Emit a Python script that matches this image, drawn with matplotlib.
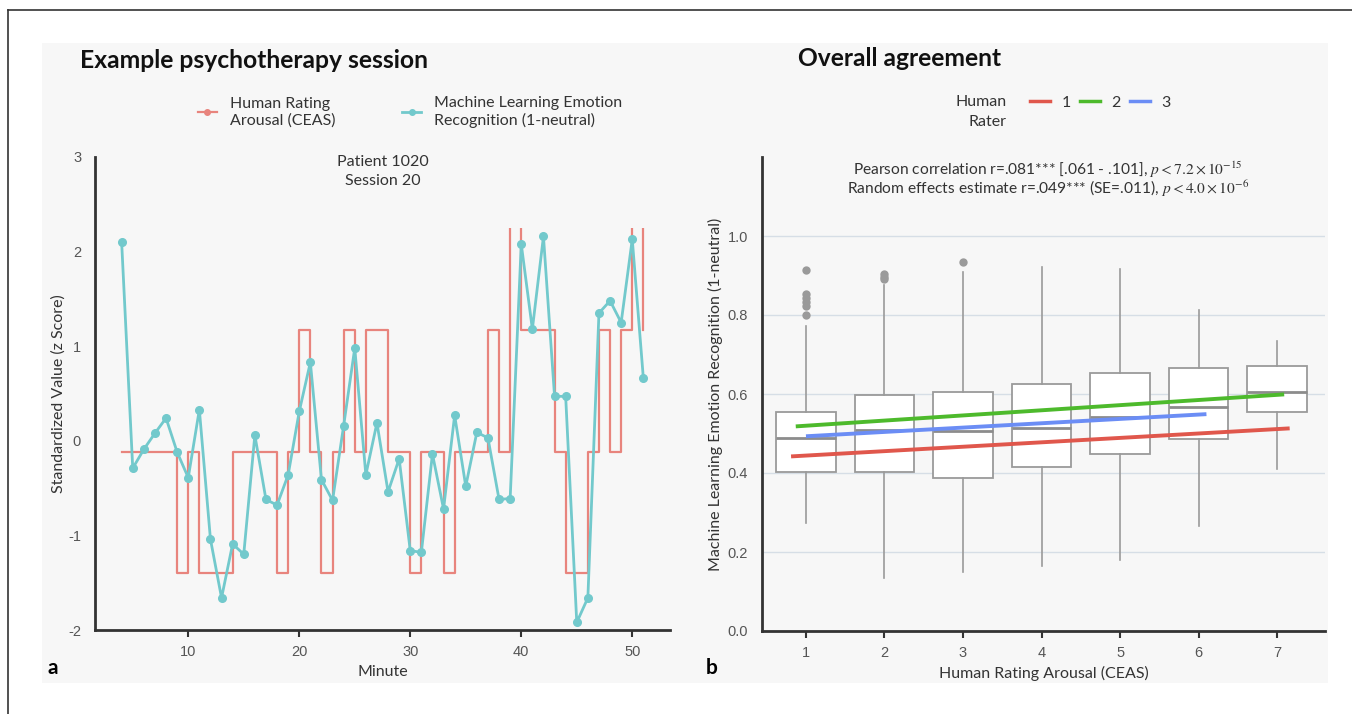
import matplotlib
matplotlib.use("Agg")
import matplotlib.pyplot as plt
from matplotlib.lines import Line2D
from matplotlib.patches import Rectangle

plt.rcParams['font.family'] = ['Lato', 'DejaVu Sans']
plt.rcParams['mathtext.fontset'] = 'stix'
plt.rcParams['axes.unicode_minus'] = False

# ---- panel a: one session, minute by minute ----
minutes = list(range(4, 52))
ml_z = [2.10, -0.29, -0.09, 0.08, 0.24, -0.12, -0.39, 0.33, -1.04, -1.66,
        -1.09, -1.20, 0.06, -0.62, -0.68, -0.36, 0.31, 0.83, -0.41, -0.63,
        0.16, 0.98, -0.36, 0.19, -0.54, -0.19, -1.16, -1.18, -0.14, -0.72,
        0.27, -0.48, 0.09, 0.03, -0.62, -0.61, 2.08, 1.18, 2.16, 0.47,
        0.47, -1.92, -1.66, 1.35, 1.48, 1.25, 2.13, 0.66]
ceas_rating = [3, 3, 3, 3, 3, 2, 3, 2, 2, 2, 3, 3, 3, 3, 2, 3, 4, 3, 2, 3,
               4, 3, 4, 4, 3, 3, 2, 3, 3, 2, 3, 3, 3, 4, 3, 5, 4, 4, 4, 3,
               2, 2, 3, 4, 3, 4, 5, 4]
ceas_z_of_rating = {2: -1.40, 3: -0.12, 4: 1.17, 5: 2.46}
ceas_z = [ceas_z_of_rating[r] for r in ceas_rating]

# ---- panel b: overall agreement ----
ratings = [1, 2, 3, 4, 5, 6, 7]
box_q1 = [0.402, 0.402, 0.388, 0.416, 0.448, 0.485, 0.555]
box_med = [0.488, 0.510, 0.506, 0.514, 0.542, 0.567, 0.604]
box_q3 = [0.555, 0.597, 0.604, 0.625, 0.653, 0.667, 0.670]
whisk_lo = [0.274, 0.134, 0.150, 0.165, 0.179, 0.267, 0.410]
whisk_hi = [0.771, 0.876, 0.908, 0.921, 0.916, 0.812, 0.735]
outliers = [[0.914, 0.853, 0.843, 0.834, 0.824, 0.800],
            [0.903, 0.897, 0.890], [0.935], [], [], [], []]

raters = ['1', '2', '3']
rater_colors = ['#e0574c', '#4dba2c', '#6b8df5']
fit_x0 = [0.81, 0.87, 1.00]
fit_x1 = [7.16, 7.09, 6.10]
fit_y0 = [0.442, 0.518, 0.493]
fit_y1 = [0.513, 0.599, 0.549]

W, H = 1352, 714


def fx(px):
    return px / W


def fy(py):
    return 1 - py / H


fig = plt.figure(figsize=(W / 100, H / 100), dpi=100)
fig.patches.append(Rectangle((fx(42), fy(683)), fx(1328) - fx(42), fy(43) - fy(683),
                             transform=fig.transFigure, facecolor='#f7f7f7',
                             edgecolor='none', zorder=-10))
fig.add_artist(Line2D([fx(8), fx(8)], [fy(10), 0], color='#333333', lw=1.2))
fig.add_artist(Line2D([fx(8), 1], [fy(10), fy(10)], color='#333333', lw=1.2))

tick_font = dict(family=['Liberation Sans', 'DejaVu Sans'], size=10.5, color='#555555')

# ---------------- panel a ----------------
ax1 = fig.add_axes([fx(95), fy(630), fx(670) - fx(95), fy(157) - fy(630)])
ax1.set_facecolor('none')
red_line, = ax1.plot(minutes, ceas_z, drawstyle='steps-post', color='#e8847d', lw=1.6)
red_line.set_clip_path(Rectangle((0, -2.5), 60, 4.75, transform=ax1.transData))
ax1.plot(minutes, ml_z, color='#72c9cc', lw=2, marker='o', markersize=5.5)
ax1.set_xlim(1.6, 53.4)
ax1.set_ylim(-2, 3)
ax1.set_xticks([10, 20, 30, 40, 50])
ax1.set_yticks([-2, -1, 0, 1, 2, 3])
for s in ['top', 'right']:
    ax1.spines[s].set_visible(False)
for s in ['left', 'bottom']:
    ax1.spines[s].set_color('#333333')
    ax1.spines[s].set_linewidth(2)
ax1.tick_params(axis='y', length=0, pad=10)
ax1.tick_params(axis='x', length=5, width=1.5, color='#333333', pad=6)
for lab in ax1.get_xticklabels() + ax1.get_yticklabels():
    lab.set(**tick_font)
ax1.set_xlabel('Minute', fontsize=11.5, color='#333333', labelpad=4)
ax1.set_ylabel('Standardized Value (z Score)', fontsize=11.5, color='#333333', labelpad=2)
ax1.text(0.5, 1.005, 'Patient 1020\nSession 20', transform=ax1.transAxes,
         ha='center', va='top', fontsize=11.5, color='#333333', linespacing=1.45)

fig.text(fx(80), fy(60), 'Example psychotherapy session', fontsize=17.7,
         fontweight='bold', va='center', color='#111111')
leg_a = [Line2D([], [], color='#e8847d', lw=1.6, marker='o', markersize=4),
         Line2D([], [], color='#72c9cc', lw=2, marker='o', markersize=4)]
fig.legend(leg_a, ['Human Rating\nArousal (CEAS)',
                   'Machine Learning Emotion\nRecognition (1-neutral)'],
           ncol=2, loc='center', bbox_to_anchor=(fx(410), fy(112)), frameon=False,
           fontsize=11.5, handlelength=1.2, handletextpad=0.8, columnspacing=4.2,
           labelcolor='#333333')
fig.text(fx(48), fy(668), 'a', fontsize=15, fontweight='bold', va='center')

# ---------------- panel b ----------------
ax2 = fig.add_axes([fx(762), fy(631), fx(1325) - fx(762), fy(157) - fy(631)])
ax2.set_facecolor('none')
stats = []
for i in range(len(ratings)):
    stats.append(dict(q1=box_q1[i], med=box_med[i], q3=box_q3[i],
                      whislo=whisk_lo[i], whishi=whisk_hi[i], fliers=outliers[i]))
ax2.bxp(stats, positions=ratings, widths=0.76, showcaps=False, patch_artist=True,
        boxprops=dict(facecolor='white', edgecolor='#9a9a9a', lw=1.3),
        medianprops=dict(color='#8c8c8c', lw=2),
        whiskerprops=dict(color='#9a9a9a', lw=1.2),
        flierprops=dict(marker='o', markerfacecolor='#9a9a9a', markeredgecolor='none',
                        markersize=6))
for i in range(len(raters)):
    ax2.plot([fit_x0[i], fit_x1[i]], [fit_y0[i], fit_y1[i]], color=rater_colors[i],
             lw=2.8, solid_capstyle='butt', zorder=5)
ax2.set_xlim(0.44, 7.61)
ax2.set_ylim(0, 1.2)
ax2.set_xticks(ratings)
ax2.set_xticklabels([str(r) for r in ratings])
ax2.set_yticks([0, 0.2, 0.4, 0.6, 0.8, 1.0])
ax2.set_yticklabels(['0.0', '0.2', '0.4', '0.6', '0.8', '1.0'])
ax2.yaxis.grid(True, color='#d6dee6', lw=1)
ax2.set_axisbelow(True)
for s in ['top', 'right']:
    ax2.spines[s].set_visible(False)
for s in ['left', 'bottom']:
    ax2.spines[s].set_color('#333333')
    ax2.spines[s].set_linewidth(2)
ax2.tick_params(axis='y', length=0, pad=10)
ax2.tick_params(axis='x', length=5, width=1.5, color='#333333', pad=6)
for lab in ax2.get_xticklabels() + ax2.get_yticklabels():
    lab.set(**tick_font)
ax2.set_xlabel('Human Rating Arousal (CEAS)', fontsize=11.5, color='#333333', labelpad=4)
ax2.set_ylabel('Machine Learning Emotion Recognition (1-neutral)', fontsize=11.5,
               color='#333333', labelpad=3)

fig.text(fx(1048), fy(170), 'Pearson correlation r=.081*** [.061 - .101], '
         r'$p < 7.2\times10^{-15}$', ha='center', va='center', fontsize=11.2,
         color='#333333')
fig.text(fx(1048), fy(189), 'Random effects estimate r=.049*** (SE=.011), '
         r'$p < 4.0\times10^{-6}$', ha='center', va='center', fontsize=11.2,
         color='#333333')

fig.text(fx(798), fy(58), 'Overall agreement', fontsize=17.7, fontweight='bold',
         va='center', color='#111111')
fig.text(fx(1007), fy(112), 'Human\nRater', ha='right', va='center', fontsize=11.5,
         color='#333333', multialignment='right', linespacing=1.5)
leg_b = [Line2D([], [], color=c, lw=2.5) for c in rater_colors]
fig.legend(leg_b, raters, ncol=3, loc='center left', bbox_to_anchor=(fx(1016), fy(103)),
           frameon=False, fontsize=11.5, handlelength=1.25, handletextpad=0.7,
           columnspacing=0.6, labelcolor='#333333')
fig.text(fx(706), fy(668), 'b', fontsize=15, fontweight='bold', va='center')

fig.savefig('out.png', dpi=100)
